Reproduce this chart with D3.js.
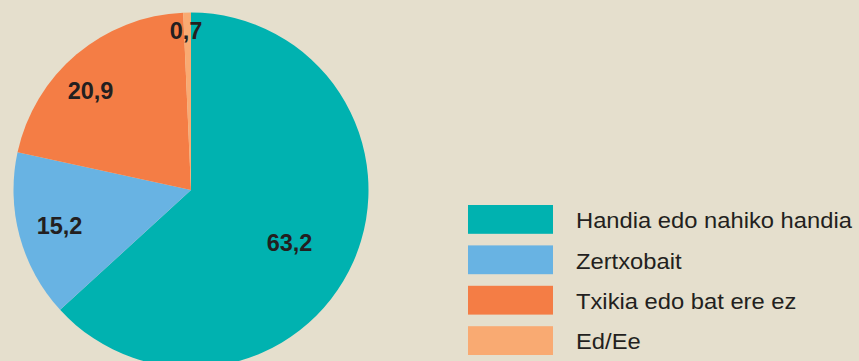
<!DOCTYPE html>
<html><head><meta charset="utf-8">
<script src="https://cdn.jsdelivr.net/npm/d3@7"></script>
<style>html,body{margin:0;padding:0;background:#e5dfcd;}svg{display:block;}</style>
</head><body>
<svg id="c" width="859" height="361"></svg>
<script>
const categories = ["Handia edo nahiko handia", "Zertxobait", "Txikia edo bat ere ez", "Ed/Ee"];
const values = [63.2, 15.2, 20.9, 0.7];
const valueLabels = ["63,2", "15,2", "20,9", "0,7"];
const colors = ["#00b2b0", "#68b3e3", "#f47d45", "#f9aa72"];

// layout
const cx = 191, cy = 190, R = 177.5;
const labelPos = [[289.5, 251], [59.5, 234], [90.5, 99], [186, 39]];

const svg = d3.select("#c");
svg.append("rect").attr("width", 859).attr("height", 361).attr("fill", "#e5dfcd");

const pie = d3.pie().sort(null).value(d => d)(values);
const arc = d3.arc().innerRadius(0).outerRadius(R);
const g = svg.append("g").attr("transform", `translate(${cx},${cy})`);
g.selectAll("path").data(pie).join("path")
  .attr("d", arc).attr("fill", (d, i) => colors[i]);

svg.selectAll("text.lbl").data(valueLabels).join("text")
  .attr("class", "lbl")
  .attr("x", (d, i) => labelPos[i][0]).attr("y", (d, i) => labelPos[i][1])
  .attr("text-anchor", "middle")
  .attr("font-family", "Liberation Sans, Arial, sans-serif")
  .attr("font-weight", "bold").attr("font-size", 23.5)
  .attr("fill", "#231f20").text(d => d);

const leg = d3.scaleBand().domain(categories).range([205, 355]).paddingInner(0.287).paddingOuter(0);
const lg = svg.append("g");
lg.selectAll("rect").data(categories).join("rect")
  .attr("x", 468).attr("y", d => leg(d)).attr("width", 85).attr("height", leg.bandwidth())
  .attr("fill", (d, i) => colors[i]);
lg.selectAll("text").data(categories).join("text")
  .attr("transform", d => `translate(576,${leg(d) + leg.bandwidth() / 2 + 8.8}) scale(1.105,1)`)
  .attr("font-family", "Liberation Sans, Arial, sans-serif")
  .attr("font-size", 21.5).attr("fill", "#231f20")
  .text(d => d);
</script>
</body></html>
